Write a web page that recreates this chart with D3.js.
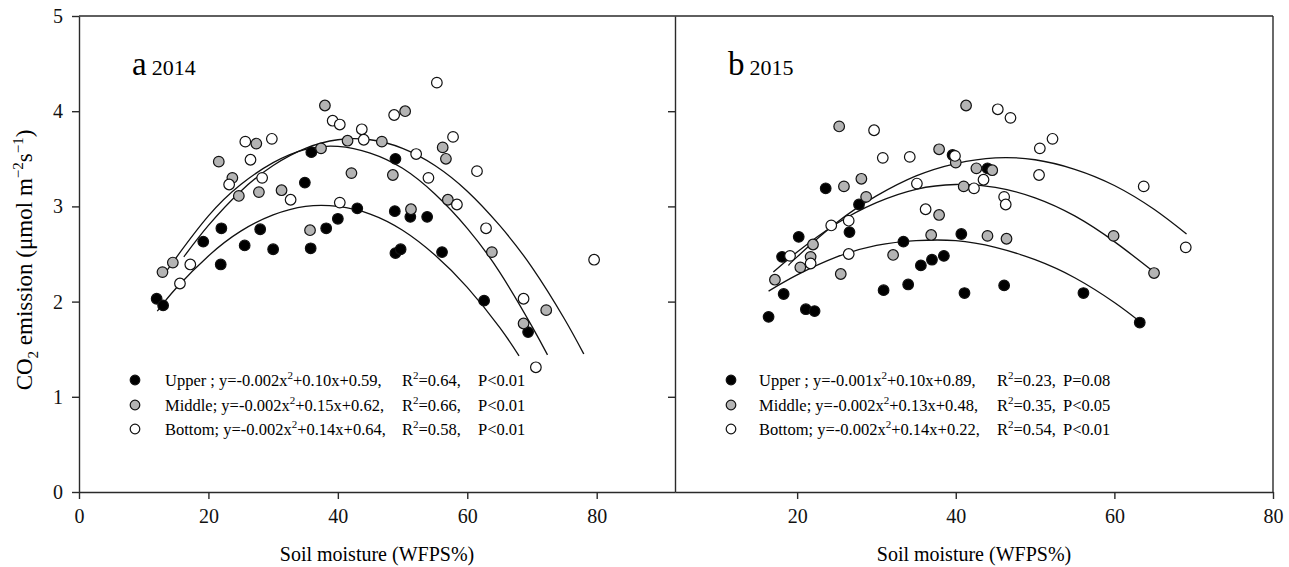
<!DOCTYPE html>
<html>
<head>
<meta charset="utf-8">
<script src="https://cdn.jsdelivr.net/npm/d3@7"></script>
<style>
  body { margin: 0; background: #fff; }
  svg { font-family: "Liberation Serif", "Times New Roman", serif; }
  .axis path, .axis line { stroke: #2a2a2a; stroke-width: 1.4; }
  .axis text { font-size: 20px; fill: #111; font-family: "Liberation Serif", serif; }
</style>
</head>
<body>
<div id="chart"></div>
<script>
// ---- data: [soil moisture %, CO2 emission] ----
const upperA = [[12.0,2.03],[13.0,1.96],[19.2,2.63],[22.0,2.77],[21.9,2.39],[25.6,2.59],[28.0,2.76],
  [30.0,2.55],[34.9,3.25],[35.9,3.57],[35.8,2.56],[38.2,2.77],[40.0,2.87],[43.0,2.98],[48.8,2.95],
  [48.9,3.50],[48.9,2.51],[49.7,2.55],[51.2,2.89],[53.8,2.89],[56.1,2.52],[62.6,2.01],[69.4,1.68]];
const middleA = [[12.9,2.31],[14.5,2.41],[21.6,3.47],[23.7,3.30],[24.7,3.11],[27.4,3.66],[27.8,3.15],
  [31.3,3.17],[35.7,2.75],[37.4,3.61],[38.0,4.06],[41.5,3.69],[42.1,3.35],[46.8,3.68],[48.5,3.33],
  [50.4,4.00],[51.3,2.97],[56.2,3.62],[56.7,3.50],[57.0,3.07],[63.8,2.52],[68.7,1.77],[72.2,1.91]];
const bottomA = [[15.6,2.19],[17.2,2.39],[23.2,3.23],[25.7,3.68],[26.5,3.49],[28.3,3.30],[29.8,3.71],
  [32.7,3.07],[39.2,3.90],[40.3,3.86],[40.3,3.04],[43.7,3.81],[44.0,3.70],[48.7,3.96],[52.1,3.55],
  [54.0,3.30],[55.3,4.30],[57.8,3.73],[58.4,3.02],[61.5,3.37],[62.9,2.77],[68.7,2.03],[70.6,1.31],[79.6,2.44]];

const upperB = [[16.4,1.84],[18.3,2.08],[18.1,2.47],[20.2,2.68],[21.1,1.92],[22.2,1.90],[23.6,3.19],
  [26.6,2.73],[27.8,3.02],[30.9,2.12],[33.4,2.63],[34.0,2.18],[35.6,2.38],[37.0,2.44],[38.5,2.48],
  [39.6,3.54],[40.7,2.71],[41.1,2.09],[44.0,3.40],[46.1,2.17],[56.1,2.09],[63.2,1.78]];
const middleB = [[17.2,2.23],[20.4,2.36],[21.7,2.47],[22.0,2.60],[25.3,3.84],[25.5,2.29],[25.9,3.21],
  [28.1,3.29],[28.7,3.10],[32.1,2.49],[36.9,2.70],[37.9,3.60],[37.9,2.91],[40.0,3.46],[41.0,3.21],
  [41.3,4.06],[42.6,3.40],[44.0,2.69],[44.6,3.38],[46.4,2.66],[59.9,2.69],[65.0,2.30]];
const bottomB = [[19.1,2.48],[21.7,2.40],[24.3,2.80],[26.5,2.50],[26.5,2.85],[29.7,3.80],[30.8,3.51],
  [34.2,3.52],[35.1,3.24],[36.2,2.97],[39.9,3.53],[42.3,3.19],[43.5,3.28],[45.3,4.02],[46.1,3.10],
  [46.3,3.02],[46.9,3.93],[50.6,3.61],[50.5,3.33],[52.2,3.71],[63.7,3.21],[69.0,2.57]];

// fitted curves, points
const fitUpperA = [[12.1,1.90],[15,2.14],[20,2.48],[25,2.74],[30,2.91],[35,3.00],[40,3.00],[45,2.92],
  [50,2.75],[55,2.49],[60,2.15],[65,1.73],[68,1.43]];
const fitMiddleA = [[13.3,2.30],[15,2.46],[20,2.90],[25,3.23],[30,3.46],[35,3.60],[40,3.63],[45,3.56],
  [50,3.40],[55,3.13],[60,2.77],[65,2.31],[70,1.74],[72.4,1.44]];
const fitBottomA = [[16.2,2.47],[20,2.80],[25,3.16],[30,3.43],[35,3.61],[40,3.70],[45,3.70],[50,3.61],
  [55,3.43],[60,3.16],[65,2.80],[70,2.36],[75,1.82],[78,1.45]];
const fitUpperB = [[16.4,2.11],[20,2.28],[25,2.47],[30,2.59],[35,2.64],[40,2.64],[45,2.57],[50,2.44],
  [55,2.25],[60,1.99],[63.2,1.79]];
const fitMiddleB = [[17,2.31],[20,2.52],[25,2.82],[30,3.04],[35,3.18],[40,3.23],[45,3.20],[50,3.09],
  [55,2.90],[60,2.63],[65,2.31]];
const fitBottomB = [[18.9,2.38],[20,2.47],[25,2.83],[30,3.11],[35,3.32],[40,3.45],[45,3.51],[50,3.49],
  [55,3.39],[60,3.22],[65,2.97],[69.1,2.71]];

const groups = ["Upper ;", "Middle;", "Bottom;"];
const fills = ["#000", "#b4b4b4", "#fff"];
const eqA = [["-0.002", "+0.10x+0.59,", "0.64,", "P<0.01"],
             ["-0.002", "+0.15x+0.62,", "0.66,", "P<0.01"],
             ["-0.002", "+0.14x+0.64,", "0.58,", "P<0.01"]];
const eqB = [["-0.001", "+0.10x+0.89,", "0.23,", "P=0.08"],
             ["-0.002", "+0.13x+0.48,", "0.35,", "P<0.05"],
             ["-0.002", "+0.14x+0.22,", "0.54,", "P<0.01"]];
const xTicksA = [0, 20, 40, 60, 80];
const xTicksB = [20, 40, 60, 80];
const yTicks = [0, 1, 2, 3, 4, 5];

const W = 1289, H = 567;
const svg = d3.select("#chart").append("svg").attr("width", W).attr("height", H);

const y = d3.scaleLinear().domain([0, 5]).range([492, 16]);
const xA = d3.scaleLinear().domain([0, 92.1]).range([79, 675]);
const xB = d3.scaleLinear().domain([4.6, 80]).range([675, 1273]);

// axes
svg.append("g").attr("class", "axis").attr("transform", "translate(0,492)")
  .call(d3.axisBottom(xA).tickValues(xTicksA).tickSize(7).tickSizeOuter(0).tickPadding(10));
svg.append("g").attr("class", "axis").attr("transform", "translate(0,492)")
  .call(d3.axisBottom(xB).tickValues(xTicksB).tickSize(7).tickSizeOuter(0).tickPadding(10));
svg.append("g").attr("class", "axis").attr("transform", "translate(79,0)")
  .call(d3.axisLeft(y).tickValues(yTicks).tickFormat(d3.format("d"))
    .tickSize(7).tickSizeOuter(0).tickPadding(9));
svg.append("g").attr("class", "axis").attr("transform", "translate(675,0)")
  .call(d3.axisLeft(y).tickValues([1, 2, 3, 4]).tickSize(7).tickSizeOuter(0).tickFormat(""));

// frame: top line and right edge
svg.append("line").attr("x1", 79).attr("x2", 1273).attr("y1", y(5)).attr("y2", y(5))
  .attr("stroke", "#2a2a2a").attr("stroke-width", 1.4);
svg.append("line").attr("x1", 1273).attr("x2", 1273).attr("y1", y(5)).attr("y2", y(0))
  .attr("stroke", "#2a2a2a").attr("stroke-width", 1.4);

// axis titles
svg.append("text").attr("x", (79 + 675) / 2).attr("y", 561)
  .attr("text-anchor", "middle").attr("font-size", 20).text("Soil moisture (WFPS%)");
svg.append("text").attr("x", (675 + 1273) / 2).attr("y", 561)
  .attr("text-anchor", "middle").attr("font-size", 20).text("Soil moisture (WFPS%)");

const yt = svg.append("text").attr("transform", "translate(32,260) rotate(-90)")
  .attr("text-anchor", "middle").attr("font-size", 23);
yt.append("tspan").text("CO");
yt.append("tspan").attr("font-size", 15).attr("dy", 6).text("2");
yt.append("tspan").attr("dy", -6).text(" emission (\u03bcmol m");
yt.append("tspan").attr("font-size", 15).attr("dy", -9).text("\u22122");
yt.append("tspan").attr("dy", 9).text("s");
yt.append("tspan").attr("font-size", 15).attr("dy", -9).text("\u22121");
yt.append("tspan").attr("dy", 9).text(")");

function panel(x, sets, fits, label, year, lx, eqs, ex) {
  const line = d3.line().x(d => x(d[0])).y(d => y(d[1])).curve(d3.curveNatural);
  fits.forEach(f => {
    svg.append("path").datum(f).attr("d", line)
      .attr("fill", "none").attr("stroke", "#111").attr("stroke-width", 1.3);
  });
  sets.forEach((s, i) => {
    svg.append("g").selectAll("circle").data(s).enter().append("circle")
      .attr("cx", d => x(d[0])).attr("cy", d => y(d[1])).attr("r", 5.3)
      .attr("fill", fills[i]).attr("stroke", "#111").attr("stroke-width", 1.2);
  });

  const t = svg.append("text").attr("x", lx).attr("y", 75);
  t.append("tspan").attr("font-size", 33).text(label);
  t.append("tspan").attr("font-size", 22).attr("dx", 5).text(year);

  const rows = [380, 405, 429];
  eqs.forEach((e, i) => {
    svg.append("circle").attr("cx", ex[0]).attr("cy", rows[i]).attr("r", 4.8)
      .attr("fill", fills[i]).attr("stroke", "#111").attr("stroke-width", 1.2);
    const tx = svg.append("text").attr("x", ex[1]).attr("y", rows[i] + 6).attr("font-size", 16.5);
    tx.append("tspan").text(groups[i] + " y=" + e[0] + "x");
    tx.append("tspan").attr("font-size", 11).attr("dy", -7).text("2");
    tx.append("tspan").attr("dy", 7).text(e[1]);
    const tr = svg.append("text").attr("x", ex[2]).attr("y", rows[i] + 6).attr("font-size", 16.5);
    tr.append("tspan").text("R");
    tr.append("tspan").attr("font-size", 11).attr("dy", -7).text("2");
    tr.append("tspan").attr("dy", 7).text("=" + e[2]);
    svg.append("text").attr("x", ex[3]).attr("y", rows[i] + 6).attr("font-size", 16.5).text(e[3]);
  });
}

panel(xA, [upperA, middleA, bottomA], [fitUpperA, fitMiddleA, fitBottomA], "a", "2014", 132, eqA,
  [135, 165, 402, 478]);
panel(xB, [upperB, middleB, bottomB], [fitUpperB, fitMiddleB, fitBottomB], "b", "2015", 728, eqB,
  [731, 759, 997, 1063]);
</script>
</body>
</html>
